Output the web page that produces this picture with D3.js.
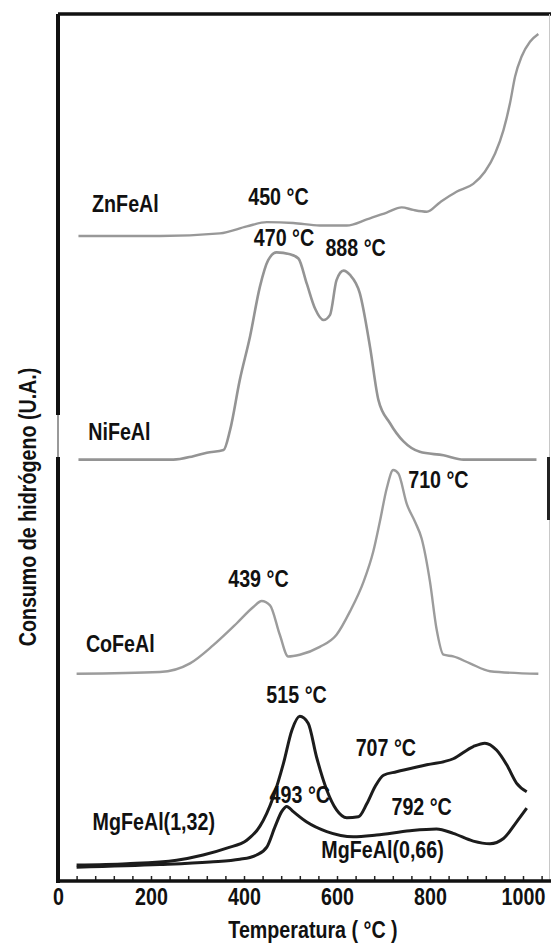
<!DOCTYPE html>
<html>
<head>
<meta charset="utf-8">
<script src="https://cdn.jsdelivr.net/npm/d3@7"></script>
<style>
  html, body { margin: 0; padding: 0; background: #fff; }
  svg { display: block; }
  text { font-family: "Liberation Sans", Arial, sans-serif; font-weight: bold; fill: #111; }
</style>
</head>
<body>
<svg id="tprSVG"></svg>
<script>
// TPR profiles, temperature (°C) vs hydrogen consumption (a.u., curves stacked)
const znTemp = [44, 219, 348, 406, 449, 506, 563, 621, 664, 707, 739, 764, 793, 822, 857, 893, 918, 940, 958, 972, 983, 997, 1015, 1033];
const znSignal = [74.4, 74.4, 74.7, 75.5, 76.0, 75.9, 75.6, 75.6, 76.3, 77.1, 77.7, 77.4, 77.2, 78.3, 79.5, 80.4, 81.8, 83.9, 86.6, 89.7, 92.8, 95.1, 96.8, 97.7];

const niTemp = [44, 248, 291, 320, 356, 370, 391, 413, 434, 452, 470, 499, 517, 535, 553, 571, 585, 599, 614, 628, 649, 671, 689, 714, 743, 778, 829, 872, 936, 1029];
const niSignal = [48.6, 48.6, 49.0, 49.4, 49.7, 52.0, 57.8, 62.8, 68.5, 71.6, 72.5, 72.3, 71.8, 68.9, 66.0, 64.7, 65.3, 69.3, 70.4, 69.9, 67.8, 61.6, 55.5, 52.8, 50.7, 49.5, 49.1, 48.6, 48.6, 48.6];

const coTemp = [40, 219, 284, 334, 384, 420, 438, 456, 477, 495, 520, 563, 599, 628, 657, 678, 692, 707, 721, 732, 750, 768, 782, 800, 814, 829, 850, 886, 929, 1033];
const coSignal = [23.9, 24.1, 25.1, 27.2, 29.7, 31.6, 32.3, 31.8, 28.4, 25.9, 26.1, 27.0, 28.4, 31.1, 34.5, 38.0, 41.4, 45.3, 47.4, 47.0, 43.5, 41.4, 39.5, 34.5, 29.1, 26.1, 25.9, 25.1, 24.2, 23.9];

const mg132Temp = [40, 148, 255, 312, 363, 406, 434, 463, 485, 503, 520, 538, 556, 578, 599, 621, 646, 664, 682, 700, 728, 793, 850, 893, 918, 943, 965, 986, 1008];
const mg132Signal = [1.85, 2.0, 2.4, 3.0, 3.8, 4.7, 6.3, 9.7, 13.6, 17.4, 19.0, 18.2, 14.3, 10.5, 8.2, 7.3, 7.4, 8.9, 10.9, 12.2, 12.6, 13.4, 14.1, 15.5, 15.9, 15.1, 13.4, 11.3, 10.3];

const mg066Temp = [40, 219, 327, 391, 427, 449, 467, 481, 492, 506, 535, 578, 635, 685, 757, 814, 850, 893, 929, 958, 986, 1008];
const mg066Signal = [1.6, 1.9, 2.2, 2.5, 3.0, 3.9, 6.3, 8.0, 8.6, 8.0, 6.8, 5.7, 5.1, 5.3, 5.8, 6.0, 5.5, 4.6, 4.3, 4.9, 6.8, 8.4];

const xTickLabels = [0, 200, 400, 600, 800, 1000];

// sample names and peak labels, anchored in data units (°C, a.u.)
const sampleNames = ["ZnFeAl", "NiFeAl", "CoFeAl", "MgFeAl(1,32)", "MgFeAl(0,66)"];
const sampleAt = [[145, 77.2], [132, 50.9], [134, 26.4], [206, 5.9], [698, 2.7]];
const peakLabels = ["450 °C", "470 °C", "888 °C", "710 °C", "439 °C", "515 °C", "707 °C", "493 °C", "792 °C"];
const peakAt = [[474, 78.0], [486, 73.2], [640, 72.1], [818, 45.3], [431, 33.9], [513, 20.5], [705, 14.4], [520, 9.0], [782, 7.6]];

const width = 551, height = 944;
const plotLeft = 58, plotTop = 14, plotBottom = 881;
const narrow = "scale(0.82,1)";

let svg = d3.select("#tprSVG").attr("width", width).attr("height", height);

let xScale = d3.scaleLinear().domain([0, 1000]).range([plotLeft, 523]);
let yScale = d3.scaleLinear().domain([0, 100]).range([plotBottom, plotTop]);

let series = [
  { t: znTemp, v: znSignal, color: "#989898", w: 2.4 },
  { t: niTemp, v: niSignal, color: "#949494", w: 2.6 },
  { t: coTemp, v: coSignal, color: "#9c9c9c", w: 2.4 },
  { t: mg132Temp, v: mg132Signal, color: "#1c1c1c", w: 3 },
  { t: mg066Temp, v: mg066Signal, color: "#1c1c1c", w: 3 }
];

let line = d3.line()
  .x(d => xScale(d[0]))
  .y(d => yScale(d[1]))
  .curve(d3.curveMonotoneX);

svg.selectAll("path.tpr")
  .data(series)
  .join("path")
  .attr("class", "tpr")
  .attr("d", s => line(s.t.map((t, i) => [t, s.v[i]])))
  .attr("fill", "none")
  .attr("stroke", s => s.color)
  .attr("stroke-width", s => s.w)
  .attr("stroke-linejoin", "round");

// frame: heavy top/left, faint right edge
svg.append("line")
  .attr("x1", plotLeft).attr("x2", width).attr("y1", plotTop).attr("y2", plotTop)
  .attr("stroke", "#111").attr("stroke-width", 3.5);
svg.append("line")
  .attr("x1", 549.5).attr("x2", 549.5).attr("y1", plotTop).attr("y2", plotBottom)
  .attr("stroke", "#c8c8c8").attr("stroke-width", 1);
svg.append("line")
  .attr("x1", 548.5).attr("x2", 548.5).attr("y1", 457).attr("y2", 520)
  .attr("stroke", "#222").attr("stroke-width", 3);
svg.append("line")
  .attr("x1", plotLeft).attr("x2", plotLeft).attr("y1", plotTop).attr("y2", 415)
  .attr("stroke", "#111").attr("stroke-width", 4);
svg.append("line")
  .attr("x1", plotLeft).attr("x2", plotLeft).attr("y1", 415).attr("y2", 457)
  .attr("stroke", "#777").attr("stroke-width", 1.5);
svg.append("line")
  .attr("x1", plotLeft).attr("x2", plotLeft).attr("y1", 457).attr("y2", plotBottom + 2)
  .attr("stroke", "#111").attr("stroke-width", 4);

// bottom axis: small inward ticks every 40 °C, labels every 200 °C
let minor = svg.append("g")
  .attr("transform", `translate(0, ${plotBottom})`)
  .call(d3.axisBottom(xScale).tickValues(d3.range(40, 1080, 40)).tickSize(-5).tickFormat(""));
minor.select(".domain").remove();
minor.selectAll(".tick line").attr("stroke", "#222").attr("stroke-width", 1.5);

svg.append("line")
  .attr("x1", plotLeft - 2).attr("x2", width).attr("y1", plotBottom).attr("y2", plotBottom)
  .attr("stroke", "#111").attr("stroke-width", 3.5);

let labels = svg.append("g")
  .attr("transform", `translate(0, ${plotBottom})`)
  .call(d3.axisBottom(xScale).tickValues(xTickLabels).tickSize(0).tickPadding(7).tickFormat(d3.format("d")));
labels.select(".domain").remove();
labels.selectAll(".tick text")
  .attr("transform", narrow)
  .style("font-size", "24px")
  .style("font-family", "'Liberation Sans', Arial, sans-serif")
  .style("font-weight", "bold")
  .attr("fill", "#111");

function putText(x, y, str, rot) {
  svg.append("g")
    .attr("transform", `translate(${x},${y})` + (rot ? ` rotate(${rot})` : ""))
    .append("text")
    .attr("transform", narrow)
    .attr("text-anchor", "middle")
    .style("font-size", "24px")
    .text(str);
}

putText(313, 938, "Temperatura ( °C )");
putText(36, 507, "Consumo de hidrógeno (U.A.)", -90);

sampleNames.forEach((n, i) => putText(xScale(sampleAt[i][0]), yScale(sampleAt[i][1]), n));
peakLabels.forEach((p, i) => putText(xScale(peakAt[i][0]), yScale(peakAt[i][1]), p));
</script>
</body>
</html>
